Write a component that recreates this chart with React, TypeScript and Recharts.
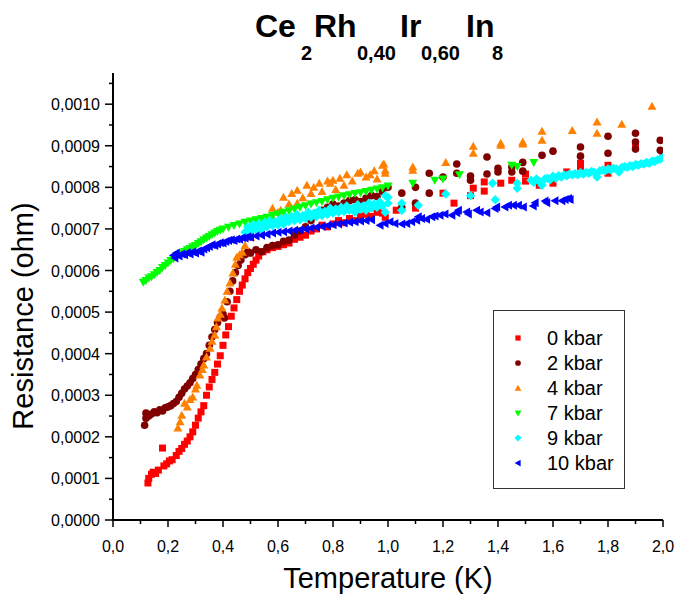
import React from 'react';
import { ScatterChart, Scatter, XAxis, YAxis, Legend } from 'recharts';

type P = [number, number];

// Temperature (K), Resistance (ohm)
const kbar0: P[] = [
  [0.127,0.89e-4],[0.13,1.0e-4],[0.14,1.1e-4],[0.146,1.15e-4],[0.155,1.12e-4],[0.165,1.2e-4],[0.18,1.73e-4],[0.185,1.3e-4],
  [0.195,1.35e-4],[0.205,1.42e-4],[0.215,1.45e-4],[0.23,1.55e-4],[0.24,1.65e-4],[0.25,1.72e-4],[0.26,1.82e-4],[0.27,1.9e-4],
  [0.28,2.0e-4],[0.29,2.12e-4],[0.30,2.28e-4],[0.31,2.45e-4],[0.32,2.6e-4],[0.33,2.75e-4],[0.34,3.0e-4],[0.35,3.2e-4],
  [0.36,3.38e-4],[0.37,3.55e-4],[0.38,3.75e-4],[0.39,3.95e-4],[0.40,4.2e-4],[0.41,4.45e-4],[0.42,4.65e-4],[0.43,4.9e-4],
  [0.44,5.1e-4],[0.45,5.3e-4],[0.46,5.5e-4],[0.47,5.65e-4],[0.48,5.8e-4],[0.49,5.95e-4],[0.50,6.05e-4],[0.51,6.15e-4],
  [0.52,6.25e-4],[0.53,6.35e-4],[0.545,6.45e-4],[0.56,6.5e-4],[0.58,6.55e-4],[0.60,6.58e-4],[0.62,6.62e-4],[0.64,6.66e-4],
  [0.66,6.75e-4],[0.68,6.8e-4],[0.70,6.85e-4],[0.72,6.95e-4],[0.74,7.0e-4],[0.76,7.09e-4],[0.78,7.05e-4],[0.80,7.12e-4],
  [0.82,7.2e-4],[0.84,7.15e-4],[0.86,7.25e-4],[0.88,7.2e-4],[0.90,7.3e-4],[0.92,7.35e-4],[0.94,7.3e-4],[0.96,7.4e-4],
  [0.98,7.38e-4],[0.99,7.28e-4],[1.03,7.45e-4],[1.10,7.5e-4],[1.20,7.86e-4],[1.24,7.62e-4],[1.30,7.8e-4],[1.31,7.98e-4],
  [1.35,8.13e-4],[1.35,7.91e-4],[1.41,8.1e-4],[1.45,8.17e-4],[1.50,8.32e-4],[1.50,8.15e-4],[1.55,8.05e-4],[1.60,8.1e-4],
  [1.65,8.37e-4],[1.70,8.58e-4],[1.70,8.5e-4],[1.80,8.53e-4],[1.80,8.34e-4],[1.90,8.97e-4],[2.0,8.85e-4],
];

const kbar2: P[] = [
  [0.115,2.28e-4],[0.12,2.45e-4],[0.12,2.57e-4],[0.13,2.5e-4],[0.14,2.55e-4],[0.15,2.6e-4],[0.16,2.58e-4],[0.17,2.65e-4],
  [0.18,2.62e-4],[0.19,2.7e-4],[0.20,2.72e-4],[0.21,2.75e-4],[0.22,2.8e-4],[0.23,2.85e-4],[0.24,2.95e-4],[0.25,3.05e-4],
  [0.26,3.15e-4],[0.27,3.22e-4],[0.28,3.3e-4],[0.29,3.4e-4],[0.30,3.5e-4],[0.31,3.62e-4],[0.32,3.75e-4],[0.33,3.88e-4],
  [0.34,4.0e-4],[0.35,4.2e-4],[0.36,4.4e-4],[0.37,4.58e-4],[0.38,4.75e-4],[0.39,4.88e-4],[0.40,4.95e-4],[0.405,4.86e-4],
  [0.415,5.25e-4],[0.425,5.5e-4],[0.435,5.75e-4],[0.445,5.95e-4],[0.455,6.12e-4],[0.465,6.25e-4],[0.48,6.38e-4],[0.49,6.45e-4],
  [0.50,6.42e-4],[0.52,6.5e-4],[0.54,6.45e-4],[0.56,6.55e-4],[0.58,6.6e-4],[0.60,6.62e-4],[0.62,6.7e-4],[0.64,6.73e-4],
  [0.66,6.85e-4],[0.68,6.95e-4],[0.70,7.05e-4],[0.72,7.2e-4],[0.74,7.38e-4],[0.76,7.45e-4],[0.78,7.52e-4],[0.80,7.6e-4],
  [0.82,7.55e-4],[0.84,7.62e-4],[0.86,7.68e-4],[0.88,7.7e-4],[0.90,7.66e-4],[0.92,7.74e-4],[0.94,7.8e-4],[0.96,7.78e-4],
  [0.98,7.9e-4],[1.0,8.0e-4],[1.05,7.86e-4],[1.05,7.52e-4],[1.10,8.0e-4],[1.10,7.62e-4],[1.15,8.34e-4],[1.15,7.86e-4],
  [1.20,8.25e-4],[1.25,8.56e-4],[1.25,8.34e-4],[1.30,8.27e-4],[1.30,8.17e-4],[1.36,8.73e-4],[1.36,8.32e-4],[1.40,8.46e-4],
  [1.40,8.37e-4],[1.45,8.49e-4],[1.45,8.37e-4],[1.49,8.6e-4],[1.49,8.39e-4],[1.56,8.77e-4],[1.60,8.87e-4],[1.70,8.97e-4],
  [1.70,8.75e-4],[1.80,9.23e-4],[1.80,8.82e-4],[1.90,9.3e-4],[1.90,9.09e-4],[1.90,8.92e-4],[1.99,9.13e-4],[1.99,8.89e-4],
];

const kbar4: P[] = [
  [0.236,2.21e-4],[0.244,2.36e-4],[0.25,2.52e-4],[0.26,2.81e-4],[0.27,2.72e-4],[0.28,2.9e-4],[0.29,2.96e-4],[0.30,3.15e-4],
  [0.305,3.24e-4],[0.316,3.49e-4],[0.325,3.62e-4],[0.33,3.73e-4],[0.34,3.92e-4],[0.353,4.13e-4],[0.36,4.3e-4],[0.37,4.45e-4],
  [0.376,4.65e-4],[0.382,4.86e-4],[0.39,4.95e-4],[0.396,5.1e-4],[0.407,5.29e-4],[0.415,5.5e-4],[0.425,5.7e-4],[0.436,5.94e-4],
  [0.445,6.15e-4],[0.45,6.32e-4],[0.46,6.38e-4],[0.47,6.44e-4],[0.48,6.6e-4],[0.50,6.8e-4],[0.52,7.0e-4],[0.545,7.16e-4],
  [0.56,7.25e-4],[0.58,7.28e-4],[0.58,7.5e-4],[0.60,7.4e-4],[0.61,7.45e-4],[0.62,7.76e-4],[0.64,7.6e-4],[0.65,7.85e-4],
  [0.67,7.62e-4],[0.67,7.93e-4],[0.69,7.75e-4],[0.705,8.05e-4],[0.72,7.85e-4],[0.73,8.0e-4],[0.75,8.1e-4],[0.76,7.9e-4],
  [0.78,8.15e-4],[0.79,8.1e-4],[0.80,8.17e-4],[0.81,7.95e-4],[0.825,8.22e-4],[0.84,8.05e-4],[0.85,8.3e-4],[0.87,8.15e-4],
  [0.89,8.34e-4],[0.90,8.37e-4],[0.92,8.25e-4],[0.935,8.3e-4],[0.95,8.4e-4],[0.96,8.2e-4],[0.98,8.53e-4],[0.985,8.56e-4],
  [0.99,8.41e-4],[0.99,8.34e-4],[1.09,8.49e-4],[1.09,8.41e-4],[1.21,8.6e-4],[1.31,8.99e-4],[1.31,8.82e-4],[1.41,9.06e-4],
  [1.41,9.01e-4],[1.49,9.09e-4],[1.49,9.04e-4],[1.56,9.35e-4],[1.56,9.13e-4],[1.67,9.37e-4],[1.76,9.57e-4],[1.76,9.3e-4],
  [1.85,9.52e-4],[1.96,9.95e-4],
];

const kbar7: P[] = [
  [0.11,5.72e-4],[0.12,5.76e-4],[0.13,5.82e-4],[0.14,5.85e-4],[0.15,5.9e-4],[0.16,5.95e-4],[0.17,6.0e-4],[0.18,6.07e-4],
  [0.19,6.12e-4],[0.20,6.18e-4],[0.21,6.24e-4],[0.22,6.28e-4],[0.23,6.33e-4],[0.24,6.38e-4],[0.25,6.42e-4],[0.26,6.46e-4],
  [0.27,6.5e-4],[0.28,6.53e-4],[0.29,6.57e-4],[0.30,6.6e-4],[0.31,6.65e-4],[0.32,6.69e-4],[0.33,6.74e-4],[0.34,6.78e-4],
  [0.35,6.82e-4],[0.36,6.86e-4],[0.37,6.9e-4],[0.38,6.94e-4],[0.39,6.97e-4],[0.40,7.0e-4],[0.42,7.04e-4],[0.44,7.08e-4],
  [0.46,7.12e-4],[0.48,7.16e-4],[0.50,7.19e-4],[0.52,7.22e-4],[0.54,7.25e-4],[0.56,7.28e-4],[0.58,7.32e-4],[0.60,7.36e-4],
  [0.62,7.4e-4],[0.64,7.44e-4],[0.66,7.48e-4],[0.68,7.52e-4],[0.70,7.56e-4],[0.72,7.6e-4],[0.74,7.63e-4],[0.76,7.66e-4],
  [0.78,7.7e-4],[0.80,7.74e-4],[0.82,7.77e-4],[0.84,7.8e-4],[0.86,7.82e-4],[0.88,7.85e-4],[0.90,7.87e-4],[0.92,7.9e-4],
  [0.94,7.93e-4],[0.96,7.96e-4],[0.98,7.99e-4],[1.0,8.03e-4],[1.09,8.1e-4],[1.17,8.17e-4],[1.20,8.2e-4],[1.26,8.3e-4],
  [1.45,8.53e-4],[1.47,8.5e-4],[1.53,8.6e-4],
];

const kbar9: P[] = [
  [0.48,6.92e-4],[0.49,7.05e-4],[0.50,6.95e-4],[0.51,7.1e-4],[0.52,6.98e-4],[0.53,7.12e-4],[0.54,7.0e-4],[0.55,7.15e-4],
  [0.56,7.05e-4],[0.57,7.2e-4],[0.58,7.08e-4],[0.59,7.18e-4],[0.60,7.1e-4],[0.61,7.25e-4],[0.62,7.12e-4],[0.63,7.28e-4],
  [0.64,7.18e-4],[0.65,7.3e-4],[0.66,7.2e-4],[0.67,7.35e-4],[0.68,7.22e-4],[0.69,7.32e-4],[0.70,7.25e-4],[0.71,7.4e-4],
  [0.72,7.28e-4],[0.73,7.38e-4],[0.74,7.3e-4],[0.75,7.45e-4],[0.76,7.32e-4],[0.77,7.42e-4],[0.78,7.35e-4],[0.79,7.5e-4],
  [0.80,7.38e-4],[0.81,7.48e-4],[0.82,7.4e-4],[0.83,7.52e-4],[0.84,7.42e-4],[0.85,7.55e-4],[0.86,7.45e-4],[0.87,7.5e-4],
  [0.88,7.4e-4],[0.89,7.58e-4],[0.90,7.48e-4],[0.91,7.55e-4],[0.92,7.45e-4],[0.93,7.62e-4],[0.94,7.5e-4],[0.95,7.6e-4],
  [0.96,7.52e-4],[0.97,7.65e-4],[0.98,7.55e-4],[0.99,7.8e-4],[1.0,7.62e-4],[1.0,7.76e-4],[0.99,7.4e-4],[1.05,7.62e-4],
  [1.05,7.45e-4],[1.11,7.57e-4],[1.21,7.84e-4],[1.30,7.8e-4],[1.38,8.1e-4],[1.39,7.7e-4],[1.47,8.1e-4],[1.47,7.98e-4],
  [1.52,8.17e-4],[1.53,8.12e-4],[1.54,8.2e-4],[1.55,8.15e-4],[1.56,8.05e-4],[1.57,8.2e-4],[1.58,8.22e-4],[1.59,8.18e-4],
  [1.60,8.27e-4],[1.61,8.22e-4],[1.62,8.28e-4],[1.63,8.25e-4],[1.64,8.3e-4],[1.65,8.28e-4],[1.66,8.32e-4],[1.67,8.3e-4],
  [1.68,8.33e-4],[1.69,8.3e-4],[1.70,8.35e-4],[1.71,8.32e-4],[1.72,8.36e-4],[1.73,8.34e-4],[1.74,8.38e-4],[1.75,8.36e-4],
  [1.76,8.25e-4],[1.77,8.4e-4],[1.78,8.42e-4],[1.79,8.4e-4],[1.80,8.44e-4],[1.81,8.42e-4],[1.82,8.46e-4],[1.83,8.44e-4],
  [1.84,8.37e-4],[1.85,8.48e-4],[1.86,8.5e-4],[1.87,8.48e-4],[1.88,8.52e-4],[1.89,8.5e-4],[1.90,8.55e-4],[1.91,8.53e-4],
  [1.92,8.57e-4],[1.93,8.56e-4],[1.94,8.6e-4],[1.95,8.58e-4],[1.96,8.63e-4],[1.97,8.62e-4],[1.98,8.66e-4],[1.99,8.68e-4],
  [2.0,8.72e-4],
];

const kbar10: P[] = [
  [0.22,6.37e-4],[0.225,6.3e-4],[0.23,6.42e-4],[0.24,6.35e-4],[0.25,6.4e-4],[0.26,6.38e-4],[0.27,6.43e-4],[0.28,6.4e-4],
  [0.29,6.45e-4],[0.30,6.42e-4],[0.31,6.47e-4],[0.32,6.44e-4],[0.33,6.52e-4],[0.34,6.55e-4],[0.35,6.58e-4],[0.36,6.62e-4],
  [0.37,6.6e-4],[0.38,6.64e-4],[0.39,6.67e-4],[0.40,6.66e-4],[0.41,6.7e-4],[0.42,6.72e-4],[0.43,6.74e-4],[0.44,6.72e-4],
  [0.45,6.76e-4],[0.46,6.75e-4],[0.47,6.79e-4],[0.48,6.78e-4],[0.49,6.81e-4],[0.50,6.8e-4],[0.52,6.83e-4],[0.54,6.85e-4],
  [0.56,6.87e-4],[0.58,6.9e-4],[0.60,6.92e-4],[0.62,6.93e-4],[0.64,6.95e-4],[0.66,6.97e-4],[0.68,6.98e-4],[0.70,7.0e-4],
  [0.72,7.02e-4],[0.74,7.04e-4],[0.76,7.06e-4],[0.78,7.08e-4],[0.80,7.1e-4],[0.82,7.12e-4],[0.84,7.14e-4],[0.86,7.16e-4],
  [0.88,7.17e-4],[0.90,7.19e-4],[0.92,7.2e-4],[0.94,7.22e-4],[0.971,7.09e-4],[0.989,7.13e-4],[1.007,7.17e-4],[1.025,7.13e-4],
  [1.05,7.12e-4],[1.068,7.13e-4],[1.086,7.17e-4],[1.104,7.21e-4],[1.11,7.29e-4],[1.122,7.25e-4],[1.14,7.23e-4],[1.159,7.29e-4],
  [1.171,7.31e-4],[1.189,7.33e-4],[1.207,7.36e-4],[1.232,7.33e-4],[1.25,7.39e-4],[1.256,7.45e-4],[1.286,7.41e-4],[1.292,7.36e-4],
  [1.322,7.45e-4],[1.335,7.41e-4],[1.359,7.39e-4],[1.389,7.49e-4],[1.395,7.53e-4],[1.425,7.53e-4],[1.438,7.57e-4],[1.456,7.57e-4],
  [1.474,7.57e-4],[1.492,7.53e-4],[1.528,7.55e-4],[1.535,7.63e-4],[1.571,7.67e-4],[1.577,7.63e-4],[1.607,7.68e-4],[1.632,7.68e-4],
  [1.644,7.71e-4],[1.656,7.73e-4],[1.662,7.71e-4],
];

const seriesNames = ['0 kbar', '2 kbar', '4 kbar', '7 kbar', '9 kbar', '10 kbar'];
const seriesColors = ['#FF0000', '#800000', '#FF8000', '#00FF00', '#00FFFF', '#0000FF'];
const seriesShapes = ['square', 'circle', 'up', 'down', 'diamond', 'left'];
const seriesData = [kbar0, kbar2, kbar4, kbar7, kbar9, kbar10];

const xTicks = [0, 0.1, 0.2, 0.3, 0.4, 0.5, 0.6, 0.7, 0.8, 0.9, 1.0, 1.1, 1.2, 1.3, 1.4, 1.5, 1.6, 1.7, 1.8, 1.9, 2.0];
const xMajor = [0, 0.2, 0.4, 0.6, 0.8, 1.0, 1.2, 1.4, 1.6, 1.8, 2.0];
const yTicks = [0, 0.00005, 0.0001, 0.00015, 0.0002, 0.00025, 0.0003, 0.00035, 0.0004, 0.00045, 0.0005,
  0.00055, 0.0006, 0.00065, 0.0007, 0.00075, 0.0008, 0.00085, 0.0009, 0.00095, 0.001, 0.00105];
const yMajor = [0, 0.0001, 0.0002, 0.0003, 0.0004, 0.0005, 0.0006, 0.0007, 0.0008, 0.0009, 0.001];

const FONT = '"Liberation Sans", Arial, Helvetica, sans-serif';

const isIn = (arr: number[], v: number) => arr.some((a) => Math.abs(a - v) < 1e-9);

const Marker = ({ kind, cx, cy, color, s = 1 }: { kind: string; cx: number; cy: number; color: string; s?: number }) => {
  if (cx == null || cy == null) return null;
  switch (kind) {
    case 'square':
      return <rect x={cx - 3.5 * s} y={cy - 3.5 * s} width={7 * s} height={7 * s} fill={color} />;
    case 'circle':
      return <circle cx={cx} cy={cy} r={3.8 * s} fill={color} />;
    case 'up':
      return <polygon points={`${cx},${cy - 4.5 * s} ${cx + 4.5 * s},${cy + 3.5 * s} ${cx - 4.5 * s},${cy + 3.5 * s}`} fill={color} />;
    case 'down':
      return <polygon points={`${cx},${cy + 4.5 * s} ${cx + 4.5 * s},${cy - 3.5 * s} ${cx - 4.5 * s},${cy - 3.5 * s}`} fill={color} />;
    case 'diamond':
      return <polygon points={`${cx},${cy - 4.7 * s} ${cx + 4.7 * s},${cy} ${cx},${cy + 4.7 * s} ${cx - 4.7 * s},${cy}`} fill={color} />;
    case 'left':
      return <polygon points={`${cx - 4.5 * s},${cy} ${cx + 3.5 * s},${cy - 4.5 * s} ${cx + 3.5 * s},${cy + 4.5 * s}`} fill={color} />;
    default:
      return null;
  }
};

const XTick = (props: any) => {
  const { x, y, payload } = props;
  const v = payload.value;
  const major = isIn(xMajor, v);
  return (
    <g>
      <line x1={x} x2={x} y1={y} y2={y + (major ? 7 : 4)} stroke="#000" strokeWidth={1.5} />
      {major && (
        <text x={x} y={y + 32} textAnchor="middle" fontSize={16} fontFamily={FONT} fill="#000">
          {v.toFixed(1).replace('.', ',')}
        </text>
      )}
    </g>
  );
};

const YTick = (props: any) => {
  const { x, y, payload } = props;
  const v = payload.value;
  const major = isIn(yMajor, v);
  return (
    <g>
      <line x1={x} x2={x - (major ? 8 : 4)} y1={y} y2={y} stroke="#000" strokeWidth={1.5} />
      {major && (
        <text x={x - 13} y={y + 6} textAnchor="end" fontSize={16} fontFamily={FONT} fill="#000">
          {v.toFixed(4).replace('.', ',')}
        </text>
      )}
    </g>
  );
};

const LegendBox = () => (
  <div style={{ width: 132, height: 179, border: '1px solid #333', boxSizing: 'border-box', background: '#fff' }}>
    <svg width={130} height={177} style={{ display: 'block' }}>
      {seriesNames.map((n, i) => (
        <g key={n}>
          <Marker kind={seriesShapes[i]} cx={24} cy={27 + 25 * i} color={seriesColors[i]} s={0.75} />
          <text x={53} y={34 + 25 * i} fontSize={20} fontFamily={FONT} fill="#000">{n}</text>
        </g>
      ))}
    </svg>
  </div>
);

const Title = () => (
  <svg width={677} height={70} style={{ position: 'absolute', left: 0, top: 0, pointerEvents: 'none' }}>
    <text fontFamily={FONT} fontWeight="bold" fill="#000">
      <tspan x={255} y={37} fontSize={32}>Ce</tspan>
      <tspan x={301} y={60} fontSize={20}>2</tspan>
      <tspan x={314} y={37} fontSize={32}>Rh</tspan>
      <tspan x={357} y={60} fontSize={20}>0,40</tspan>
      <tspan x={400} y={37} fontSize={32}>Ir</tspan>
      <tspan x={421} y={60} fontSize={20}>0,60</tspan>
      <tspan x={466} y={37} fontSize={32}>In</tspan>
      <tspan x={492} y={60} fontSize={20}>8</tspan>
    </text>
  </svg>
);

export default function App() {
  const tables = seriesData.map((arr) => arr.map(([t, r]) => ({ t, r })));
  return (
    <div style={{ position: 'absolute', left: 0, top: 0, width: 677, height: 594, background: '#fff' }}>
      <ScatterChart width={677} height={594} margin={{ top: 73, right: 14, bottom: 0, left: 0 }}>
        <XAxis
          type="number"
          dataKey="t"
          domain={[0, 2]}
          ticks={xTicks}
          interval={0}
          height={74}
          tickSize={0}
          tickMargin={0}
          tickLine={false}
          tick={<XTick />}
          axisLine={{ stroke: '#000', strokeWidth: 2 }}
          allowDataOverflow
          label={{
            content: () => (
              <text x={388} y={588} textAnchor="middle" fontSize={29} fontFamily={FONT} fill="#000">Temperature (K)</text>
            ),
          }}
        />
        <XAxis xAxisId="top" orientation="top" type="number" domain={[0, 2]} height={0} ticks={[]} tick={false} tickLine={false} axisLine={{ stroke: '#000', strokeWidth: 1.5 }} />
        <YAxis
          type="number"
          dataKey="r"
          domain={[0, 0.001075]}
          ticks={yTicks}
          interval={0}
          width={113}
          tickSize={0}
          tickMargin={0}
          tickLine={false}
          tick={<YTick />}
          axisLine={{ stroke: '#000', strokeWidth: 2 }}
          allowDataOverflow
          label={{
            content: () => (
              <text transform="translate(33,316) rotate(-90)" textAnchor="middle" fontSize={29} fontFamily={FONT} fill="#000">Resistance (ohm)</text>
            ),
          }}
        />
        <YAxis yAxisId="right" orientation="right" type="number" domain={[0, 0.001075]} width={0} ticks={[]} tick={false} tickLine={false} axisLine={{ stroke: '#000', strokeWidth: 1.5 }} />
        <Legend
          layout="vertical"
          align="center"
          verticalAlign="middle"
          wrapperStyle={{ left: 493, top: 310, width: 132, height: 179 }}
          content={() => <LegendBox />}
        />
        {tables.map((d, i) => (
          <Scatter
            key={seriesNames[i]}
            name={seriesNames[i]}
            data={d}
            fill={seriesColors[i]}
            isAnimationActive={false}
            shape={(p: any) => <Marker kind={seriesShapes[i]} cx={p.cx} cy={p.cy} color={seriesColors[i]} />}
          />
        ))}
      </ScatterChart>
      <Title />
    </div>
  );
}
